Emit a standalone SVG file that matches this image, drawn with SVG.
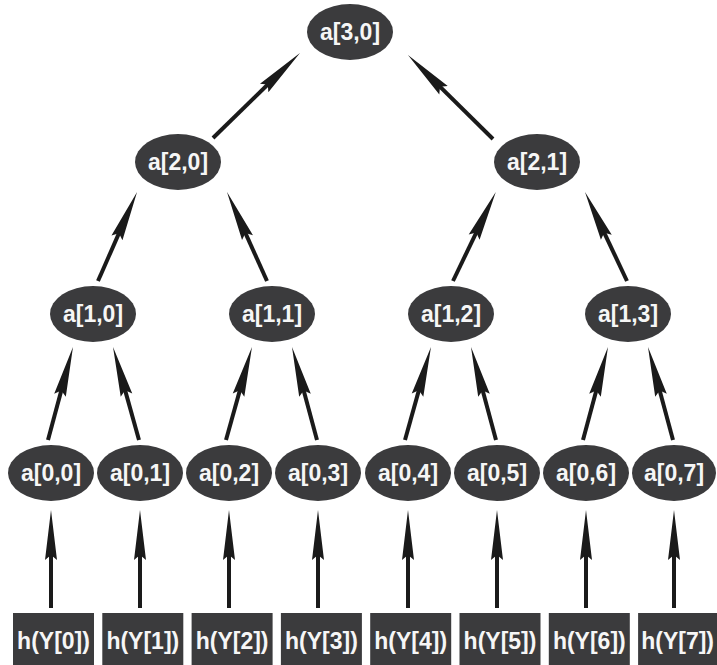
<svg xmlns="http://www.w3.org/2000/svg" width="717" height="665" viewBox="0 0 717 665">
<style>
.n ellipse{fill:#3b3b3d}
.b rect{fill:#3b3b3d}
text{font-family:"Liberation Sans",Arial,sans-serif;font-weight:bold;font-size:23px;fill:#f6f6f6;text-anchor:middle}
.e line{stroke:#1a1a1a;stroke-width:4;marker-end:url(#ah)}
</style>
<defs>
<marker id="ah" markerUnits="userSpaceOnUse" viewBox="0 -7 52 14" markerWidth="52" markerHeight="14" refX="20" refY="0" orient="auto" overflow="visible">
<path d="M0,-6 L50,0 L0,6 L5,0 Z" fill="#1a1a1a"/>
</marker>
</defs>
<rect width="717" height="665" fill="#fff"/>
<g id="edges" class="e">
<line x1="213" y1="138" x2="278.5" y2="74"/>
<line x1="493" y1="139" x2="429.3" y2="76.1"/>
<line x1="98" y1="281" x2="125" y2="219.5"/>
<line x1="267" y1="281" x2="239.3" y2="219.4"/>
<line x1="453" y1="281" x2="482.8" y2="219"/>
<line x1="627" y1="281" x2="597.8" y2="219.1"/>
<line x1="48" y1="440" x2="65.2" y2="376"/>
<line x1="139" y1="440" x2="121.1" y2="375.9"/>
<line x1="226" y1="440" x2="243.9" y2="375.9"/>
<line x1="317" y1="440" x2="299.8" y2="376"/>
<line x1="405" y1="440" x2="422.9" y2="375.9"/>
<line x1="496" y1="440" x2="478.8" y2="376"/>
<line x1="583" y1="440" x2="600.2" y2="376"/>
<line x1="673" y1="440" x2="655.8" y2="376"/>
<line x1="51" y1="608" x2="51" y2="540"/>
<line x1="140" y1="608" x2="140" y2="540"/>
<line x1="229" y1="608" x2="229" y2="540"/>
<line x1="318" y1="608" x2="318" y2="540"/>
<line x1="408" y1="608" x2="408" y2="540"/>
<line x1="497" y1="608" x2="497" y2="540"/>
<line x1="586" y1="608" x2="586" y2="540"/>
<line x1="674" y1="608" x2="674" y2="540"/>
</g>
<g id="a30" class="n"><ellipse cx="350" cy="32" rx="43" ry="28"/><text x="350" y="40">a[3,0]</text></g>
<g id="a20" class="n"><ellipse cx="178" cy="162" rx="43" ry="28"/><text x="178" y="170">a[2,0]</text></g>
<g id="a21" class="n"><ellipse cx="537" cy="162" rx="43" ry="28"/><text x="537" y="170">a[2,1]</text></g>
<g id="a10" class="n"><ellipse cx="93" cy="314" rx="43" ry="28"/><text x="93" y="322">a[1,0]</text></g>
<g id="a11" class="n"><ellipse cx="272" cy="314" rx="43" ry="28"/><text x="272" y="322">a[1,1]</text></g>
<g id="a12" class="n"><ellipse cx="451" cy="314" rx="43" ry="28"/><text x="451" y="322">a[1,2]</text></g>
<g id="a13" class="n"><ellipse cx="628" cy="314" rx="43" ry="28"/><text x="628" y="322">a[1,3]</text></g>
<g id="a00" class="n"><ellipse cx="51" cy="473" rx="43" ry="28"/><text x="51" y="481">a[0,0]</text></g>
<g id="a01" class="n"><ellipse cx="140" cy="473" rx="43" ry="28"/><text x="140" y="481">a[0,1]</text></g>
<g id="a02" class="n"><ellipse cx="229" cy="473" rx="43" ry="28"/><text x="229" y="481">a[0,2]</text></g>
<g id="a03" class="n"><ellipse cx="318" cy="473" rx="43" ry="28"/><text x="318" y="481">a[0,3]</text></g>
<g id="a04" class="n"><ellipse cx="408" cy="473" rx="43" ry="28"/><text x="408" y="481">a[0,4]</text></g>
<g id="a05" class="n"><ellipse cx="497" cy="473" rx="43" ry="28"/><text x="497" y="481">a[0,5]</text></g>
<g id="a06" class="n"><ellipse cx="586" cy="473" rx="43" ry="28"/><text x="586" y="481">a[0,6]</text></g>
<g id="a07" class="n"><ellipse cx="674" cy="473" rx="42" ry="28"/><text x="674" y="481">a[0,7]</text></g>
<g id="h0" class="b"><rect x="13" y="613" width="81" height="52"/><text x="53.5" y="649">h(Y[0])</text></g>
<g id="h1" class="b"><rect x="102.3" y="613" width="81" height="52"/><text x="142.8" y="649">h(Y[1])</text></g>
<g id="h2" class="b"><rect x="191.6" y="613" width="81" height="52"/><text x="232.1" y="649">h(Y[2])</text></g>
<g id="h3" class="b"><rect x="280.9" y="613" width="81" height="52"/><text x="321.4" y="649">h(Y[3])</text></g>
<g id="h4" class="b"><rect x="370.2" y="613" width="81" height="52"/><text x="410.7" y="649">h(Y[4])</text></g>
<g id="h5" class="b"><rect x="459.5" y="613" width="81" height="52"/><text x="500" y="649">h(Y[5])</text></g>
<g id="h6" class="b"><rect x="548.8" y="613" width="81" height="52"/><text x="589.3" y="649">h(Y[6])</text></g>
<g id="h7" class="b"><rect x="638.1" y="613" width="79" height="52"/><text x="677.6" y="649">h(Y[7])</text></g>
</svg>
